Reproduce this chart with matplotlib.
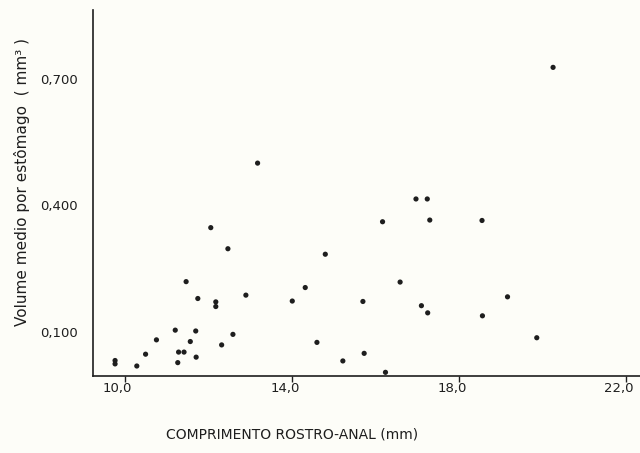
import matplotlib
matplotlib.use("Agg")
import matplotlib.pyplot as plt
import matplotlib.transforms as mtransforms

# Comprimento rostro-anal (mm)
comprimento = [9.77, 9.77, 10.29, 10.50, 10.76, 11.21, 11.29, 11.42, 11.27, 11.47,
               11.57, 11.70, 11.71, 11.75, 12.06, 12.18, 12.18, 12.32, 12.47, 12.59,
               12.90, 13.18, 14.01, 14.32, 14.60, 14.80, 15.22, 15.70, 15.73, 16.17,
               16.24, 16.59, 16.97, 17.24, 17.30, 17.10, 17.25, 18.55, 18.56, 19.16,
               19.86, 20.25]
# Volume medio por estomago (mm3)
volume = [0.032, 0.024, 0.019, 0.047, 0.081, 0.104, 0.052, 0.052, 0.027, 0.219,
          0.077, 0.102, 0.040, 0.179, 0.347, 0.171, 0.160, 0.069, 0.297, 0.094,
          0.187, 0.500, 0.173, 0.205, 0.075, 0.284, 0.031, 0.172, 0.049, 0.361,
          0.004, 0.218, 0.415, 0.415, 0.365, 0.162, 0.145, 0.364, 0.138, 0.183,
          0.086, 0.727]

xticks = [10.0, 14.0, 18.0, 22.0]
xticklabels = ["10,0", "14,0", "18,0", "22,0"]
yticks = [0.1, 0.4, 0.7]
yticklabels = ["0,100", "0,400", "0,700"]

bg = "#fdfdf8"
ink = "#1e1e1e"

fig = plt.figure(figsize=(6.4, 4.53), dpi=100, facecolor=bg)
ax = fig.add_axes([93/640, 77/453, 547/640, 366/453], facecolor=bg)

ax.scatter(comprimento, volume, s=14, color=ink, edgecolors="none", zorder=3)

ax.set_xlim(9.242, 22.33)
ax.set_ylim(-0.0047, 0.863)

for side in ("top", "right"):
    ax.spines[side].set_visible(False)
for side in ("left", "bottom"):
    ax.spines[side].set_color(ink)
    ax.spines[side].set_linewidth(1.2)

ax.set_xticks(xticks)
ax.set_xticklabels(xticklabels, fontsize=9.5, color=ink)
ax.set_yticks(yticks)
ax.set_yticklabels(yticklabels, fontsize=9.5, color=ink)
ax.tick_params(axis="x", direction="out", length=4, width=1.0, color=ink, pad=0)
ax.tick_params(axis="y", length=0, pad=11)

offset = mtransforms.ScaledTranslation(-7/100, 0, fig.dpi_scale_trans)
for lab in ax.get_xticklabels():
    lab.set_transform(lab.get_transform() + offset)

fig.text(292/640, 1 - 435/453, "COMPRIMENTO ROSTRO-ANAL (mm)", ha="center",
         va="center", fontsize=10, color=ink)
fig.text(22/640, 1 - 182/453, "Volume medio por estômago  ( mm³ )", ha="center",
         va="center", rotation=90, fontsize=11, color=ink)

fig.savefig("out.png", dpi=100, facecolor=bg)
